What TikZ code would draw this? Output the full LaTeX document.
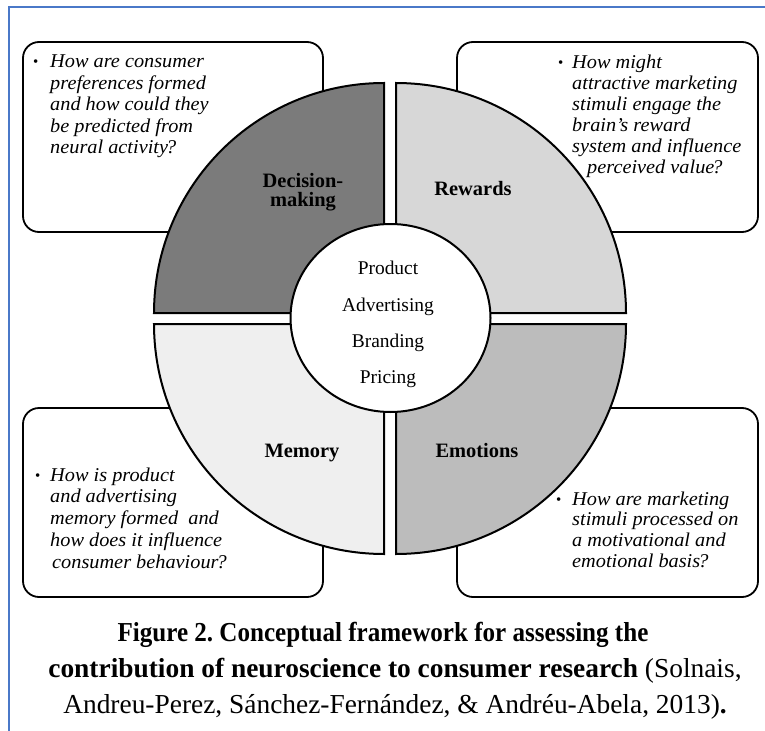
\documentclass[tikz,border=0pt]{standalone}
\usepackage{fontspec}
\setmainfont{Liberation Serif}
\newfontfamily\boxfont[FakeStretch=1.04]{Liberation Serif}
\newfontfamily\capcond[FakeStretch=0.915]{Liberation Serif}
\newcommand{\qmk}{\kern-2bp?}
\frenchspacing
\definecolor{bluerule}{HTML}{4A78C8}
\definecolor{qdec}{HTML}{7B7B7B}
\definecolor{qrew}{HTML}{D7D7D7}
\definecolor{qmem}{HTML}{EFEFEF}
\definecolor{qemo}{HTML}{BCBCBC}
\tikzset{
  qbox/.style={draw=black, line width=1.8bp, rounded corners=16bp, fill=white},
  quad/.style={draw=black, line width=2bp},
  qline/.style={anchor=base west, inner sep=0pt, font=\boxfont\itshape\fontsize{19.6}{21}\selectfont},
  qbul/.style={anchor=base west, inner sep=0pt, font=\fontsize{15}{15}\selectfont},
  qlabel/.style={anchor=base, inner sep=0pt, font=\bfseries\fontsize{20.5}{19}\selectfont},
  ctext/.style={anchor=base, inner sep=0pt, font=\fontsize{19.5}{20}\selectfont},
  capline/.style={anchor=base, inner sep=0pt, font=\fontsize{27.5}{30}\selectfont}
}
\begin{document}
\begin{tikzpicture}[x=1bp,y=1bp,yscale=-1]
\useasboundingbox (0,0) rectangle (765,731);
\fill[white] (0,0) rectangle (765,731);
% blue frame (left and top)
\draw[bluerule, line width=1.6bp] (9,731) -- (9,7) -- (765,7);
% question boxes
\draw[qbox] (23,42) rectangle (323,232);
\draw[qbox] (457,42) rectangle (758,232);
\draw[qbox] (23,408) rectangle (323,597);
\draw[qbox] (457,408) rectangle (758,597);
% quadrants
\draw[quad, fill=qdec] (384,313) -- (154,313) arc[start angle=180, end angle=270, radius=230] -- cycle;
\draw[quad, fill=qrew] (396,313) -- (396,83) arc[start angle=270, end angle=360, radius=230] -- cycle;
\draw[quad, fill=qmem] (384,324) -- (154,324) arc[start angle=180, end angle=90, radius=230] -- cycle;
\draw[quad, fill=qemo] (396,324) -- (626,324) arc[start angle=0, end angle=90, radius=230] -- cycle;
% central circle
\draw[quad, fill=white] (390.5,318) ellipse [x radius=100, y radius=94];
% central text
\node[ctext] (cprod) at (388,274) {Product};
\node[ctext] (cadv) at (388,311) {Advertising};
\node[ctext] (cbrand) at (388,347) {Branding};
\node[ctext] (cpric) at (388,383) {Pricing};
% quadrant labels
\node[qlabel, align=center] (ldec) at (303,206) {Decision-\\making};
\node[qlabel] (lrew) at (473,195) {Rewards};
\node[qlabel] (lmem) at (302,457) {Memory};
\node[qlabel] (lemo) at (477,457) {Emotions};
% top-left questions
\node[qbul] (btl) at (33,67) {\textbullet};
\foreach \t [count=\i from 0] in {How are consumer, preferences formed, and how could they, be predicted from, neural activity\qmk}
  \node[qline] (tl\i) at (50,68+21.4*\i) {\t};
% top-right questions
\node[qbul] (btr) at (558,68) {\textbullet};
\foreach \t [count=\i from 0] in {How might, attractive marketing, stimuli engage the, brain’s reward, system and influence}
  \node[qline] (tr\i) at (572,69+20.8*\i) {\t};
\node[qline] (tr5) at (587,173) {perceived value\qmk};
% bottom-left questions
\node[qbul] (bbl) at (35,480) {\textbullet};
\foreach \t [count=\i from 0] in {How is product, and advertising, memory formed\ \ and, how does it influence}
  \node[qline] (bl\i) at (50,481+21.7*\i) {\t};
\node[qline] (bl4) at (52,568) {consumer behaviour\qmk};
% bottom-right questions
\node[qbul] (bbr) at (556,504) {\textbullet};
\foreach \t [count=\i from 0] in {How are marketing, stimuli processed on, a motivational and, emotional basis\qmk}
  \node[qline] (br\i) at (572,505+20.7*\i) {\t};
% caption
\node[capline] (cap1) at (383,641) {\capcond\bfseries Figure 2. Conceptual framework for assessing the};
\node[capline] (cap2) at (395,677) {\textbf{contribution of neuroscience to consumer research} (Solnais,};
\node[capline] (cap3) at (395,713) {Andreu-Perez, Sánchez-Fernández, \& Andréu-Abela, 2013)\textbf{.}};
\end{tikzpicture}
\end{document}
